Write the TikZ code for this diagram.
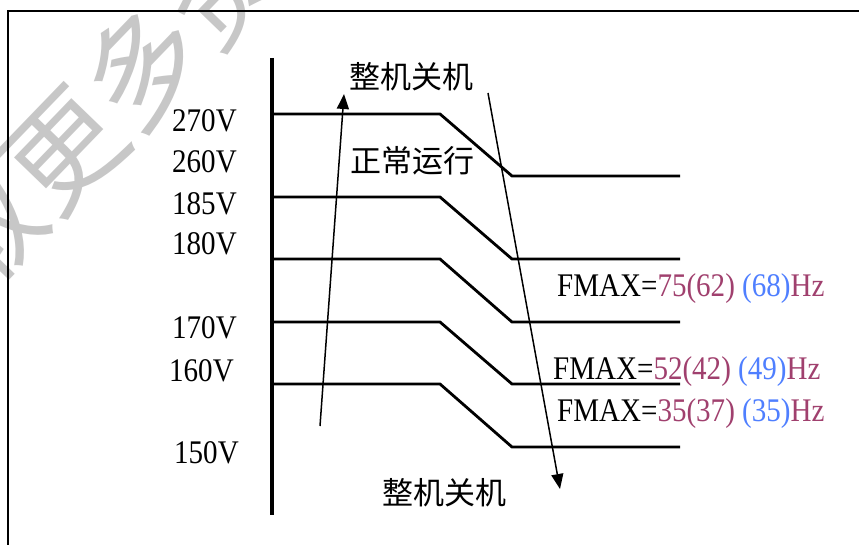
\documentclass[tikz,border=0pt]{standalone}
\usepackage{fontspec}
\setmainfont[FakeStretch=0.88]{Liberation Serif}
\newfontfamily\cjk{Noto Sans CJK SC}
\usetikzlibrary{arrows.meta}
\definecolor{fred}{HTML}{A0406E}
\definecolor{fblue}{HTML}{4F7FFF}
\colorlet{wm-gray}{black!22}

\begin{document}
\begin{tikzpicture}[x=1pt, y=-1pt,
  level/.style={line width=2.8pt},
  volt/.style={anchor=base west, inner sep=0pt, font=\fontsize{33}{36}\selectfont},
  zh/.style={inner sep=0pt, font=\cjk\fontsize{31}{34}\selectfont},
  trend/.style={line width=1.5pt, -{Triangle[length=15pt, width=12pt]}}]
  \useasboundingbox (0, 0) rectangle (859, 545);
  \fill[white] (0, 0) rectangle (859, 545);
  % watermark
  \node[text=wm-gray, rotate=46, inner sep=0pt, font=\cjk\fontsize{115}{115}\selectfont] (wm) at (103, 108) {取更多资};
  % frame and voltage axis
  \draw[line width=2.4pt] (8, 545) -- (8, 11) -- (859, 11);
  \draw[line width=3.2pt] (272, 58) -- (272, 515);

  % threshold levels
  \draw[level] (272, 114) -- (440, 114) -- (512, 176) -- (680, 176);
  \draw[level] (272, 197) -- (440, 197) -- (512, 259) -- (680, 259);
  \draw[level] (272, 259) -- (440, 259) -- (512, 322) -- (680, 322);
  \draw[level] (272, 322) -- (440, 322) -- (512, 384) -- (680, 384);
  \draw[level] (272, 384) -- (440, 384) -- (512, 447) -- (680, 447);

  % voltages
  \node[volt] (v270) at (172, 132) {270V};
  \node[volt] (v260) at (172, 173) {260V};
  \node[volt] (v185) at (172, 215) {185V};
  \node[volt] (v180) at (172, 255) {180V};
  \node[volt] (v170) at (172, 338) {170V};
  \node[volt] (v160) at (169, 381) {160V};
  \node[volt] (v150) at (174, 463) {150V};

  % states
  \node[zh] (off-top) at (411, 77) {整机关机};
  \node[zh] (run) at (412, 161) {正常运行};
  \node[zh] (off-bottom) at (444, 493) {整机关机};

  % frequency limits
  \node[volt] (f75) at (557, 296) {FMAX=\textcolor{fred}{75(62)} \textcolor{fblue}{(68)}\textcolor{fred}{Hz}};
  \node[volt] (f52) at (553, 379) {FMAX=\textcolor{fred}{52(42)} \textcolor{fblue}{(49)}\textcolor{fred}{Hz}};
  \node[volt] (f35) at (557, 421) {FMAX=\textcolor{fred}{35(37)} \textcolor{fblue}{(35)}\textcolor{fred}{Hz}};

  % rising and falling voltage
  \coordinate (rise-start) at (320, 426);
  \coordinate (rise-end) at (344, 94);
  \coordinate (fall-start) at (488, 93);
  \coordinate (fall-end) at (560, 489);
  \draw[trend] (rise-start) -- (rise-end);
  \draw[trend] (fall-start) -- (fall-end);
\end{tikzpicture}
\end{document}
